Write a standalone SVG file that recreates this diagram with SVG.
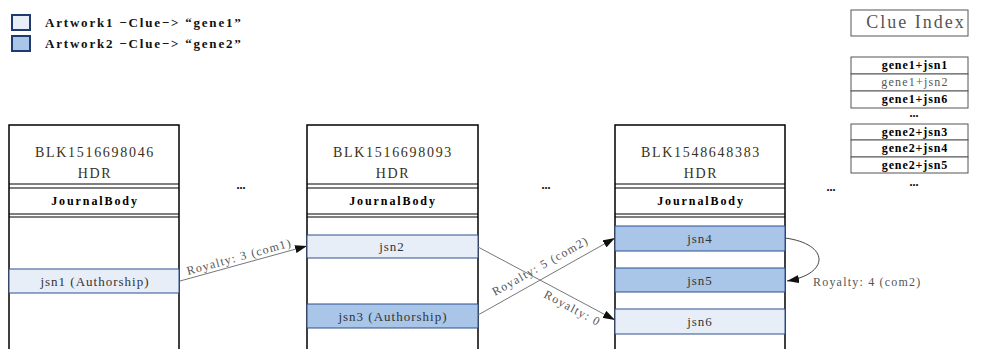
<svg xmlns="http://www.w3.org/2000/svg" width="984" height="349" viewBox="0 0 984 349">
<style>
.blk{fill:#fff;stroke:#000;stroke-width:1.5}
.ln{stroke:#000;stroke-width:1.2}
.hdr{font-family:"Liberation Serif",serif;font-size:14px;fill:#3a3020;letter-spacing:1.7px;text-anchor:middle}
.jb{font-family:"Liberation Serif",serif;font-size:12px;font-weight:bold;fill:#000;letter-spacing:1.9px;text-anchor:middle}
.row1{fill:#E8EEF8;stroke:#2F4F8F;stroke-width:1}
.row2{fill:#A9C6E8;stroke:#2F4F8F;stroke-width:1}
.rt{font-family:"Liberation Serif",serif;font-size:13px;fill:#333;letter-spacing:1px;text-anchor:middle}
.lbl{font-family:"Liberation Serif",serif;font-size:12px;fill:#555;letter-spacing:1.2px}
.con{fill:none;stroke:#777;stroke-width:1}
.leg{font-family:"Liberation Serif",serif;font-size:13px;font-weight:bold;fill:#111;letter-spacing:1.8px}
.ci{fill:#fff;stroke:#555;stroke-width:1}
.cit{font-family:"Liberation Serif",serif;font-size:12px;font-weight:bold;fill:#000;text-anchor:middle;letter-spacing:0.9px}
.cit2{font-family:"Liberation Serif",serif;font-size:12px;font-weight:normal;fill:#555;text-anchor:middle;letter-spacing:1.2px}
.dots{font-family:"Liberation Serif",serif;font-size:12px;font-weight:bold;fill:#000;text-anchor:middle}
</style>
<defs>
<marker id="ah" viewBox="0 0 12 8" refX="12" refY="4" markerWidth="12" markerHeight="8" markerUnits="userSpaceOnUse" orient="auto">
<path d="M0,0 L12,4 L0,8 Z" fill="#111"/>
</marker>
</defs>
<rect width="984" height="349" fill="#fff"/>

<g id="legend">
<rect x="12" y="15" width="18" height="15" fill="#E8EEF8" stroke="#1F3A6E" stroke-width="2"/>
<rect x="12" y="36" width="18" height="15" fill="#A9C6E8" stroke="#1F3A6E" stroke-width="2"/>
<text class="leg" x="45" y="27">Artwork1 −Clue−&gt; “gene1”</text>
<text class="leg" x="45" y="48">Artwork2 −Clue−&gt; “gene2”</text>
</g>

<g id="clue-index">
<rect class="ci" x="851" y="10" width="117" height="26"/>
<text x="916" y="28" font-family="Liberation Serif, serif" font-size="18" fill="#555" text-anchor="middle" letter-spacing="2">Clue Index</text>
<rect class="ci" x="851" y="57" width="117" height="17"/>
<rect class="ci" x="851" y="74" width="117" height="17"/>
<rect class="ci" x="851" y="91" width="117" height="17"/>
<text class="cit" x="915" y="69">gene1+jsn1</text>
<text class="cit2" x="915" y="86">gene1+jsn2</text>
<text class="cit" x="915" y="103">gene1+jsn6</text>
<text class="dots" x="914" y="117">...</text>
<rect class="ci" x="851" y="124" width="117" height="16"/>
<rect class="ci" x="851" y="140" width="117" height="17"/>
<rect class="ci" x="851" y="157" width="117" height="16"/>
<text class="cit" x="915" y="136">gene2+jsn3</text>
<text class="cit" x="915" y="152">gene2+jsn4</text>
<text class="cit" x="915" y="169">gene2+jsn5</text>
<text class="dots" x="914" y="186">...</text>
</g>

<g id="block1">
<rect class="blk" x="9" y="125" width="170" height="240"/>
<line class="ln" x1="9" y1="184" x2="179" y2="184"/>
<line class="ln" x1="9" y1="188" x2="179" y2="188"/>
<line class="ln" x1="9" y1="214" x2="179" y2="214"/>
<line class="ln" x1="9" y1="217" x2="179" y2="217"/>
<text class="hdr" x="95" y="157">BLK1516698046</text>
<text class="hdr" x="95" y="178">HDR</text>
<text class="jb" x="95" y="205">JournalBody</text>
<rect class="row1" x="9" y="269" width="170" height="24"/>
<text class="rt" x="95" y="286">jsn1 (Authorship)</text>
</g>

<g id="block2">
<rect class="blk" x="307" y="125" width="171" height="240"/>
<line class="ln" x1="307" y1="184" x2="478" y2="184"/>
<line class="ln" x1="307" y1="188" x2="478" y2="188"/>
<line class="ln" x1="307" y1="214" x2="478" y2="214"/>
<line class="ln" x1="307" y1="217" x2="478" y2="217"/>
<text class="hdr" x="393" y="157">BLK1516698093</text>
<text class="hdr" x="393" y="178">HDR</text>
<text class="jb" x="393" y="205">JournalBody</text>
<rect class="row1" x="307" y="235" width="171" height="23"/>
<text class="rt" x="392" y="251">jsn2</text>
<rect class="row2" x="307" y="304" width="171" height="24"/>
<text class="rt" x="393" y="321">jsn3 (Authorship)</text>
</g>

<g id="block3">
<rect class="blk" x="615" y="125" width="170" height="240"/>
<line class="ln" x1="615" y1="184" x2="785" y2="184"/>
<line class="ln" x1="615" y1="188" x2="785" y2="188"/>
<line class="ln" x1="615" y1="214" x2="785" y2="214"/>
<line class="ln" x1="615" y1="217" x2="785" y2="217"/>
<text class="hdr" x="701" y="157">BLK1548648383</text>
<text class="hdr" x="701" y="178">HDR</text>
<text class="jb" x="701" y="205">JournalBody</text>
<rect class="row2" x="615" y="226" width="170" height="25"/>
<text class="rt" x="700" y="243">jsn4</text>
<rect class="row2" x="615" y="268" width="170" height="24"/>
<text class="rt" x="700" y="285">jsn5</text>
<rect class="row1" x="615" y="309" width="170" height="25"/>
<text class="rt" x="700" y="326">jsn6</text>
</g>

<g id="ellipses">
<text class="dots" x="241" y="189">...</text>
<text class="dots" x="546" y="189">...</text>
<text class="dots" x="831" y="191">...</text>
</g>

<g id="connectors">
<line class="con" x1="180" y1="281" x2="307" y2="246" marker-end="url(#ah)"/>
<text class="lbl" transform="translate(188,275) rotate(-15.4)">Royalty: 3 (com1)</text>
<line class="con" x1="478" y1="247" x2="615" y2="320" marker-end="url(#ah)"/>
<text class="lbl" transform="translate(543,297) rotate(28)">Royalty: 0</text>
<line class="con" x1="478" y1="315" x2="615" y2="238" marker-end="url(#ah)"/>
<text class="lbl" transform="translate(495,296) rotate(-29.3)">Royalty: 5 (com2)</text>
<path class="con" d="M785,238 C830,244 830,274 787,281" style="stroke:#444" marker-end="url(#ah)"/>
<text class="lbl" x="813" y="286">Royalty: 4 (com2)</text>
</g>
</svg>
